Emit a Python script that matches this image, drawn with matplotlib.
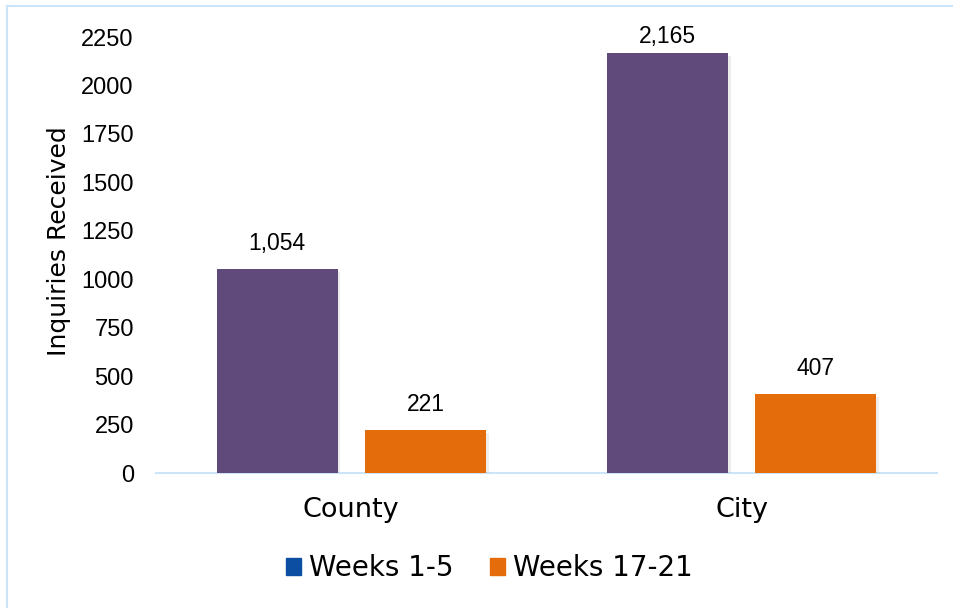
import numpy as np
import matplotlib
matplotlib.use("Agg")
import matplotlib.pyplot as plt
from matplotlib.lines import Line2D
from matplotlib.patches import Patch
import matplotlib.patheffects as pe

categories = ["County", "City"]
weeks_1_5 = [1054, 2165]
weeks_17_21 = [221, 407]
series_names = ["Weeks 1-5", "Weeks 17-21"]
yticks = [0, 250, 500, 750, 1000, 1250, 1500, 1750, 2000, 2250]

PURPLE = "#604A7B"
ORANGE = "#E46C0A"
LEGEND_BLUE = "#0B4EA2"
BORDER = "#CCE4F7"

fig = plt.figure(figsize=(9.54, 6.08), dpi=100)
ax = fig.add_axes([156 / 954, 1 - 473 / 608, (937 - 156) / 954, (473 - 37) / 608])

x = np.arange(len(categories))
w, off = 0.31, 0.19
shadow = [pe.SimplePatchShadow(offset=(2, -2), alpha=0.08), pe.Normal()]
b1 = ax.bar(x - off, weeks_1_5, w, color=PURPLE, path_effects=shadow, zorder=3)
b2 = ax.bar(x + off, weeks_17_21, w, color=ORANGE, path_effects=shadow, zorder=3)

ax.set_xlim(-0.5, 1.5)
ax.set_ylim(0, 2250)

# labels sit ~10pt above the bar, but are squeezed down near the top (like Excel)
px_per_unit = ax.get_window_extent().height / 2250
for bars, vals in ((b1, weeks_1_5), (b2, weeks_17_21)):
    for r, v in zip(bars, vals):
        room = (2250 - v) * px_per_unit - 11
        dy = max(2, min(10, room * 72 / fig.dpi))
        ax.annotate(f"{v:,}", (r.get_x() + r.get_width() / 2, v),
                    xytext=(0, dy), textcoords="offset points",
                    ha="center", va="bottom", fontsize=16.5,
                    family="Liberation Sans")

ax.set_yticks(yticks)
ax.set_yticklabels([str(t) for t in yticks], family="Liberation Sans", fontsize=17)
ax.set_xticks(x)
ax.set_xticklabels(categories, family="DejaVu Sans", fontsize=19.5)
ax.tick_params(axis="y", length=0, pad=16)
ax.tick_params(axis="x", length=0, pad=17)
for s in ("top", "right", "left"):
    ax.spines[s].set_visible(False)
ax.spines["bottom"].set_color(BORDER)
ax.spines["bottom"].set_linewidth(1.5)
ax.set_ylabel("Inquiries Received", family="DejaVu Sans", fontsize=18)
ax.yaxis.set_label_coords(-0.109, 0.532)

handles = [Patch(color=LEGEND_BLUE), Patch(color=ORANGE)]
fig.legend(handles, series_names, loc="center", bbox_to_anchor=(0.513, 1 - 568 / 608),
           ncol=2, frameon=False, prop={"family": "DejaVu Sans", "size": 20},
           handlelength=0.55, handleheight=0.55, handletextpad=0.28, columnspacing=1.3)

# outer frame (only top and left visible in the image)
fig.add_artist(Line2D([7 / 954, 7 / 954], [0, 1 - 6 / 608], color=BORDER, lw=1.5))
fig.add_artist(Line2D([7 / 954, 1], [1 - 6 / 608, 1 - 6 / 608], color=BORDER, lw=1.5))

fig.savefig("out.png", dpi=100)
